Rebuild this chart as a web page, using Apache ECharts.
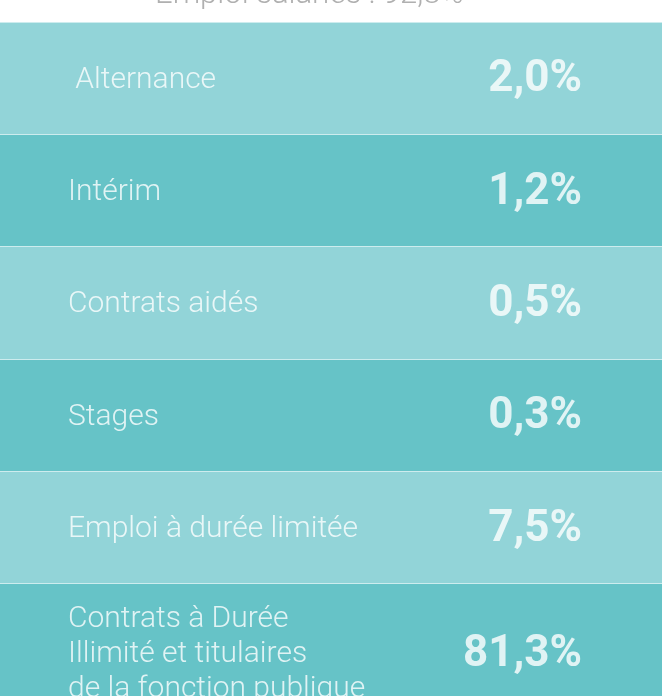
<!DOCTYPE html>
<html>
<head>
<meta charset="utf-8">
<script src="https://cdn.jsdelivr.net/npm/echarts@6/dist/echarts.min.js"></script>
<style>html,body{margin:0;padding:0;background:#fff}#c{width:662px;height:696px}</style>
</head>
<body>
<div id="c"></div>
<script>
const titleText = 'Emploi salariés : 92,8%';
const categories = [' Alternance', 'Intérim', 'Contrats aidés', 'Stages', 'Emploi à durée limitée', 'Contrats à Durée\nIllimité et titulaires\nde la fonction publique'];
const values = [2.0, 1.2, 0.5, 0.3, 7.5, 81.3];

const fmt = v => v.toFixed(1).replace('.', ',') + '%';
const chart = echarts.init(document.getElementById('c'), null, {renderer: 'canvas'});
const last = categories.length - 1;
chart.setOption({
  backgroundColor: '#ffffff',
  animation: false,
  title: {
    text: titleText, left: 150, top: -25,
    textStyle: {color: '#b0b0b0', fontSize: 31, fontWeight: 300, fontFamily: 'Roboto'}
  },
  grid: {left: 0, right: 0, top: 22, bottom: 0},
  xAxis: {type: 'value', min: 0, max: 1, show: false},
  yAxis: {
    type: 'category', inverse: true, data: categories,
    axisLine: {show: false}, axisTick: {show: false}, axisLabel: {show: false},
    splitLine: {show: true, lineStyle: {color: '#cdecee', width: 1}},
    splitArea: {show: true, areaStyle: {color: ['#92d4d8', '#66c3c7']}}
  },
  series: [
    {
      type: 'scatter', symbolSize: 0, silent: true,
      data: categories.map((c, i) => ({
        value: [0, i],
        label: {offset: [0, i === last ? 15 : 2]}
      })),
      label: {
        show: true, position: 'right', distance: 68, align: 'left',
        formatter: p => categories[p.dataIndex],
        color: '#ffffff', fontSize: 30, fontWeight: 300, fontFamily: 'Roboto', lineHeight: 35
      }
    },
    {
      type: 'scatter', symbolSize: 0, silent: true,
      data: values.map((v, i) => ({
        value: [1, i],
        label: {offset: [0, i === last ? 15 : 2]}
      })),
      label: {
        show: true, position: 'left', distance: 80,
        formatter: p => fmt(values[p.dataIndex]),
        color: '#ffffff', fontSize: 44, fontWeight: 'bold', fontFamily: 'Roboto'
      }
    }
  ]
});
</script>
</body>
</html>
